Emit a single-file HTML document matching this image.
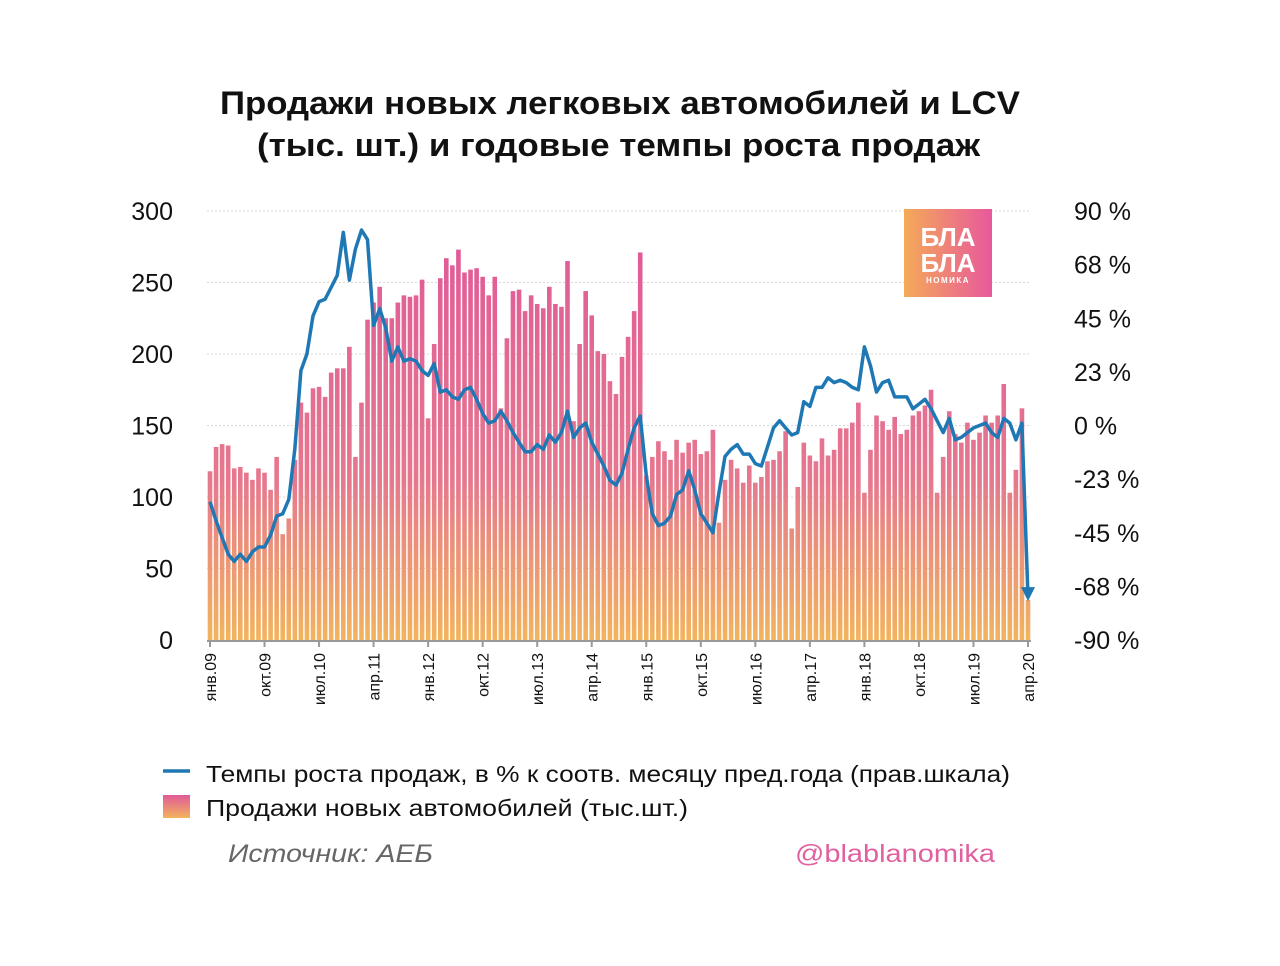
<!DOCTYPE html>
<html><head><meta charset="utf-8">
<style>
body{margin:0;background:#fff;width:1280px;height:961px;overflow:hidden;font-family:"Liberation Sans","DejaVu Sans",sans-serif}
</style></head>
<body>
<svg id="chart" width="1280" height="961" viewBox="0 0 1280 961" xmlns="http://www.w3.org/2000/svg">
<defs>
<linearGradient id="barGrad" gradientUnits="userSpaceOnUse" x1="0" y1="240" x2="0" y2="640">
<stop offset="0" stop-color="#e05a98"/><stop offset="0.6" stop-color="#e6788e"/><stop offset="1" stop-color="#f2b45e"/>
</linearGradient>
<linearGradient id="logoGrad" x1="0" y1="0" x2="1" y2="0">
<stop offset="0" stop-color="#f4aa58"/><stop offset="1" stop-color="#e8589c"/>
</linearGradient>
<linearGradient id="legGrad" x1="0" y1="0" x2="0" y2="1">
<stop offset="0" stop-color="#e05a98"/><stop offset="1" stop-color="#f2b45e"/>
</linearGradient>
</defs>
<text x="220" y="114" textLength="800" lengthAdjust="spacingAndGlyphs" font-size="32" font-weight="bold" fill="#111">Продажи новых легковых автомобилей и LCV</text>
<text x="257" y="156" textLength="723" lengthAdjust="spacingAndGlyphs" font-size="32" font-weight="bold" fill="#111">(тыс. шт.) и годовые темпы роста продаж</text>
<g id="grid"></g>
<g id="bars"></g>
<g id="axes"></g>
<g id="line"></g>
<g>
<rect x="904" y="209" width="88" height="88" fill="url(#logoGrad)"/>
<text x="948" y="246" text-anchor="middle" font-size="26" font-weight="bold" fill="#fff">БЛА</text>
<text x="948" y="272" text-anchor="middle" font-size="26" font-weight="bold" fill="#fff">БЛА</text>
<text x="948" y="283" text-anchor="middle" font-size="8" font-weight="bold" fill="#fff" letter-spacing="1.5">НОМИКА</text>
</g>
<g>
<line x1="163" y1="771" x2="190" y2="771" stroke="#1f78b4" stroke-width="3.5"/>
<text x="206" y="782" textLength="804" lengthAdjust="spacingAndGlyphs" font-size="23" fill="#111">Темпы роста продаж, в % к соотв. месяцу пред.года (прав.шкала)</text>
<rect x="163" y="795" width="27" height="23" fill="url(#legGrad)"/>
<text x="206" y="816" textLength="482" lengthAdjust="spacingAndGlyphs" font-size="23" fill="#111">Продажи новых автомобилей (тыс.шт.)</text>
</g>
<text x="228" y="862" textLength="205" lengthAdjust="spacingAndGlyphs" font-size="25" font-style="italic" fill="#666">Источник: АЕБ</text>
<text x="795" y="862" textLength="200" lengthAdjust="spacingAndGlyphs" font-size="25" fill="#e060a0">@blablanomika</text>
</svg>
<script>
const sales2009=[118,135,137,136,120,121,117,112,120,117,105,128];
const sales2010=[74,85,126,166,159,176,177,170,187,190,190,205];
const sales2011=[128,166,224,236,247,225,225,236,241,240,241,252];
const sales2012=[155,207,253,267,262,273,257,259,260,254,241,254];
const sales2013=[162,211,244,245,230,241,235,232,247,235,233,265];
const sales2014=[153,207,244,227,202,200,181,172,198,212,230,271];
const sales2015=[115,128,139,132,126,140,131,138,140,130,132,147];
const sales2016=[82,112,126,120,110,122,110,114,125,126,132,146];
const sales2017=[78,107,138,129,125,141,129,133,148,148,152,166];
const sales2018=[103,133,157,153,147,156,144,147,157,160,164,175];
const sales2019=[103,128,160,144,138,152,140,145,157,152,157,179];
const sales2020=[103,119,162,28];
const growth=[-32,-40,-47,-54,-57,-54,-57,-53,-51,-51,-46,-38,-37,-31,-10,23,30,46,52,53,58,63,81,61,74,82,78,42,49,41,27,33,27,28,27,23,21,26,14,15,12,11,15,16,11,5,1,2,6,2,-3,-7,-11,-11,-8,-10,-4,-7,-3,6,-5,-1,1,-7,-12,-17,-23,-25,-20,-10,-1,4,-21,-37,-42,-41,-38,-29,-27,-19,-27,-37,-41,-45,-28,-13,-10,-8,-12,-12,-16,-17,-9,-1,2,-1,-4,-3,10,8,16,16,20,18,19,18,16,15,33,25,14,18,19,12,12,12,7,9,11,7,2,-3,3,-6,-5,-3,-1,0,1,-3,-5,3,1,-6,1,-72];
const leftTicks=[0,50,100,150,200,250,300];
const rightTicks=["-90 %","-68 %","-45 %","-23 %","0 %","23 %","45 %","68 %","90 %"];
const xLabels=["янв.09","окт.09","июл.10","апр.11","янв.12","окт.12","июл.13","апр.14","янв.15","окт.15","июл.16","апр.17","янв.18","окт.18","июл.19","апр.20"];
const sales=[].concat(sales2009,sales2010,sales2011,sales2012,sales2013,sales2014,sales2015,sales2016,sales2017,sales2018,sales2019,sales2020);
const NS="http://www.w3.org/2000/svg";
const X0=210,X1=1028,YT=211,YB=640;
const n=sales.length;
function xPos(i){return X0+(X1-X0)*i/(n-1);}
function yL(v){return YB-(YB-YT)*v/300;}
function yR(p){return YB-(YB-YT)*(p+90)/180;}
function mk(tag,attrs,parent){const e=document.createElementNS(NS,tag);for(const k in attrs)e.setAttribute(k,attrs[k]);parent.appendChild(e);return e;}
const grid=document.getElementById('grid'),bars=document.getElementById('bars'),axes=document.getElementById('axes'),lineG=document.getElementById('line');
leftTicks.forEach((v,i)=>{
 if(v>0){const g=mk('line',{x1:207,x2:1031,y1:yL(v),y2:yL(v),stroke:'#d8d8d8','stroke-width':1,'stroke-dasharray':'2,2'},grid);
 
 }
 const t=mk('text',{x:173,y:yL(v)+9,'text-anchor':'end','font-size':25,fill:'#111'},axes);
 t.textContent=v;
 
 
});
rightTicks.forEach((s,i)=>{
 const t=mk('text',{x:1074,y:YB-(YB-YT)*i/(rightTicks.length-1)+9,'font-size':25,fill:'#111'},axes);
 t.textContent=s;
 
 
});
sales.forEach((v,i)=>{
 const r=mk('rect',{x:xPos(i)-2.3,y:yL(v),width:4.6,height:YB-yL(v),fill:'url(#barGrad)'},bars);
 
 
});
const ax=mk('line',{x1:207,x2:1031,y1:YB+1,y2:YB+1,stroke:'#999','stroke-width':2},axes);


xLabels.forEach((s,k)=>{
 const i=k*9,x=xPos(i);
 const tk=mk('line',{x1:x,x2:x,y1:YB,y2:YB+7,stroke:'#999','stroke-width':2},axes);
 
 
 const t=mk('text',{x:0,y:0,'text-anchor':'end','font-size':16,fill:'#111',transform:`translate(${x+6},${YB+13}) rotate(-90)`},axes);
 t.textContent=s;
 
 
});
const pts=growth.map((p,i)=>xPos(i).toFixed(1)+','+yR(p).toFixed(1));
const pl=mk('polyline',{points:pts.join(' '),fill:'none',stroke:'#1f78b4','stroke-width':3.5,'stroke-linejoin':'round'},lineG);


const lx=xPos(n-1),ly=yR(growth[n-1]);
const ar=mk('polygon',{points:`${lx-7},${ly-10} ${lx+7},${ly-10} ${lx},${ly+4}`,fill:'#1f78b4'},lineG);


</script>
</body></html>
